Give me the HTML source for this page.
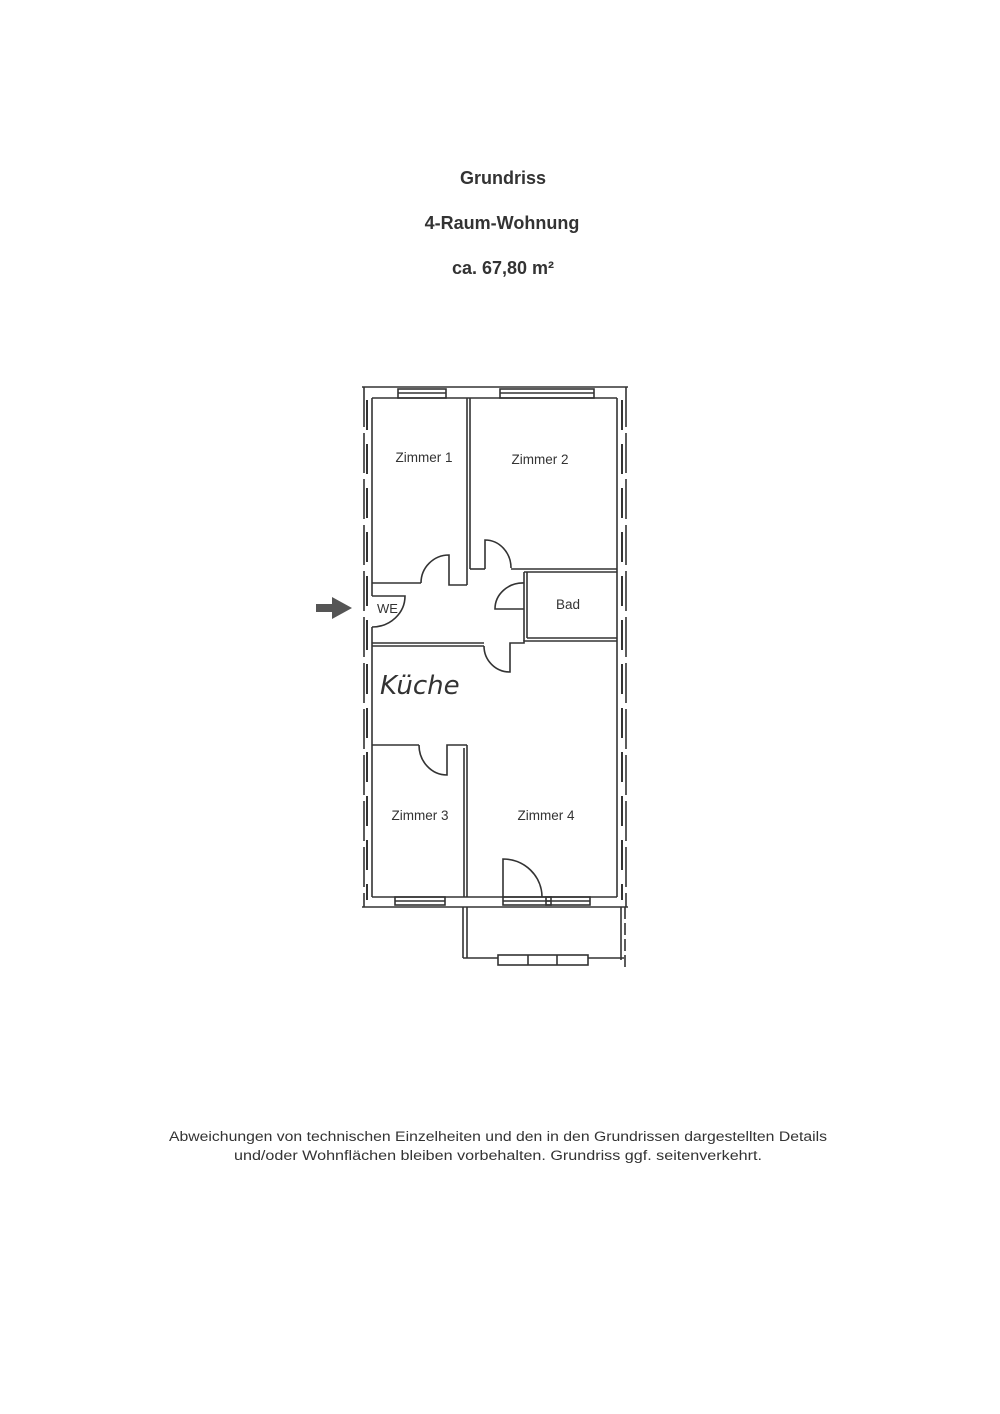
<!DOCTYPE html>
<html><head><meta charset="utf-8"><style>
html,body{margin:0;padding:0;background:#fff}
svg{display:block}
</style></head><body>
<svg width="1000" height="1414" viewBox="0 0 1000 1414" xmlns="http://www.w3.org/2000/svg" font-family="Liberation Sans, sans-serif">
<rect width="1000" height="1414" fill="#fff"/>
<g fill="#333" font-weight="bold" text-anchor="middle" font-size="18">
<text x="503" y="184">Grundriss</text>
<text x="502" y="229">4-Raum-Wohnung</text>
<text x="503" y="274">ca. 67,80 m²</text>
</g>
<g stroke="#333" fill="none" stroke-width="1.6">
<line x1="362" y1="387" x2="628" y2="387"/>
<line x1="362" y1="907" x2="628" y2="907"/>
<line x1="364" y1="387" x2="364" y2="907" stroke-dasharray="40,6"/>
<line x1="626" y1="387" x2="626" y2="907" stroke-dasharray="40,6"/>
<line x1="367" y1="400" x2="367" y2="900" stroke-dasharray="30,14" stroke-width="2"/>
<line x1="622" y1="400" x2="622" y2="900" stroke-dasharray="30,14" stroke-width="2"/>
<line x1="372" y1="398" x2="617" y2="398"/>
<line x1="372" y1="897" x2="617" y2="897"/>
<line x1="372" y1="398" x2="372" y2="596"/>
<line x1="372" y1="627" x2="372" y2="897"/>
<line x1="617" y1="398" x2="617" y2="897"/>
<rect x="398" y="389" width="48" height="9"/>
<line x1="398" y1="393" x2="446" y2="393"/>
<rect x="500" y="389" width="94" height="9"/>
<line x1="500" y1="393" x2="594" y2="393"/>
<line x1="467" y1="398" x2="467" y2="585"/>
<line x1="470" y1="398" x2="470" y2="569"/>
<line x1="372" y1="583" x2="421" y2="583"/>
<path d="M421 583 A28 28 0 0 1 449 555 L449 585 L467 585"/>
<line x1="470" y1="569" x2="485" y2="569"/>
<path d="M485 569 L485 540 A26 28 0 0 1 511 568"/>
<line x1="511" y1="569" x2="617" y2="569"/>
<line x1="524" y1="572" x2="617" y2="572"/>
<line x1="524" y1="572" x2="524" y2="641"/>
<line x1="527" y1="572" x2="527" y2="638"/>
<line x1="527" y1="638" x2="617" y2="638"/>
<path d="M524 609 L495 609 A28 26 0 0 1 524 583"/>
<path d="M372 596 L405 596 A33 31 0 0 1 372 627"/>
<line x1="372" y1="643" x2="484" y2="643"/>
<line x1="372" y1="646" x2="484" y2="646"/>
<path d="M484 646 A26 26 0 0 0 510 672 L510 643 L524 643 L524 641 L617 641"/>
<line x1="372" y1="745" x2="419" y2="745"/>
<path d="M419 745 A28 30 0 0 0 447 775 L447 745 L467 745"/>
<line x1="464" y1="748" x2="464" y2="897"/>
<line x1="467" y1="745" x2="467" y2="897"/>
<path d="M503 897 L503 859 A39 38 0 0 1 542 897"/>
<rect x="395" y="897" width="50" height="8"/>
<line x1="395" y1="901" x2="445" y2="901"/>
<rect x="503" y="897" width="48" height="8"/>
<line x1="503" y1="901" x2="551" y2="901"/>
<rect x="546" y="897" width="44" height="8"/>
<line x1="546" y1="901" x2="590" y2="901"/>
<line x1="463" y1="907" x2="463" y2="958"/>
<line x1="467" y1="907" x2="467" y2="958"/>
<line x1="463" y1="958" x2="498" y2="958"/>
<line x1="588" y1="958" x2="624" y2="958"/>
<line x1="621" y1="907" x2="621" y2="960"/>
<line x1="625" y1="907" x2="625" y2="970" stroke-dasharray="12,4"/>
<rect x="498" y="955" width="90" height="10"/>
<line x1="528" y1="955" x2="528" y2="965"/>
<line x1="557" y1="955" x2="557" y2="965"/>
</g>
<path d="M316 604 L332 604 L332 597 L352 608 L332 619 L332 612 L316 612 Z" fill="#555"/>
<g fill="#333" font-size="13.5" text-anchor="middle">
<text x="424" y="462">Zimmer 1</text>
<text x="540" y="464">Zimmer 2</text>
<text x="568" y="609">Bad</text>
<text x="420" y="820">Zimmer 3</text>
<text x="546" y="820">Zimmer 4</text>
</g>
<text x="377" y="613" font-size="13" fill="#333">WE</text>
<text x="380" y="694" font-size="26" font-style="italic" fill="#333" font-family="DejaVu Sans, sans-serif" font-weight="200">Küche</text>
<g fill="#333" font-size="13.5" text-anchor="middle">
<text x="498" y="1141" textLength="658" lengthAdjust="spacingAndGlyphs">Abweichungen von technischen Einzelheiten und den in den Grundrissen dargestellten Details</text>
<text x="498" y="1160" textLength="528" lengthAdjust="spacingAndGlyphs">und/oder Wohnflächen bleiben vorbehalten. Grundriss ggf. seitenverkehrt.</text>
</g>
</svg>
</body></html>
